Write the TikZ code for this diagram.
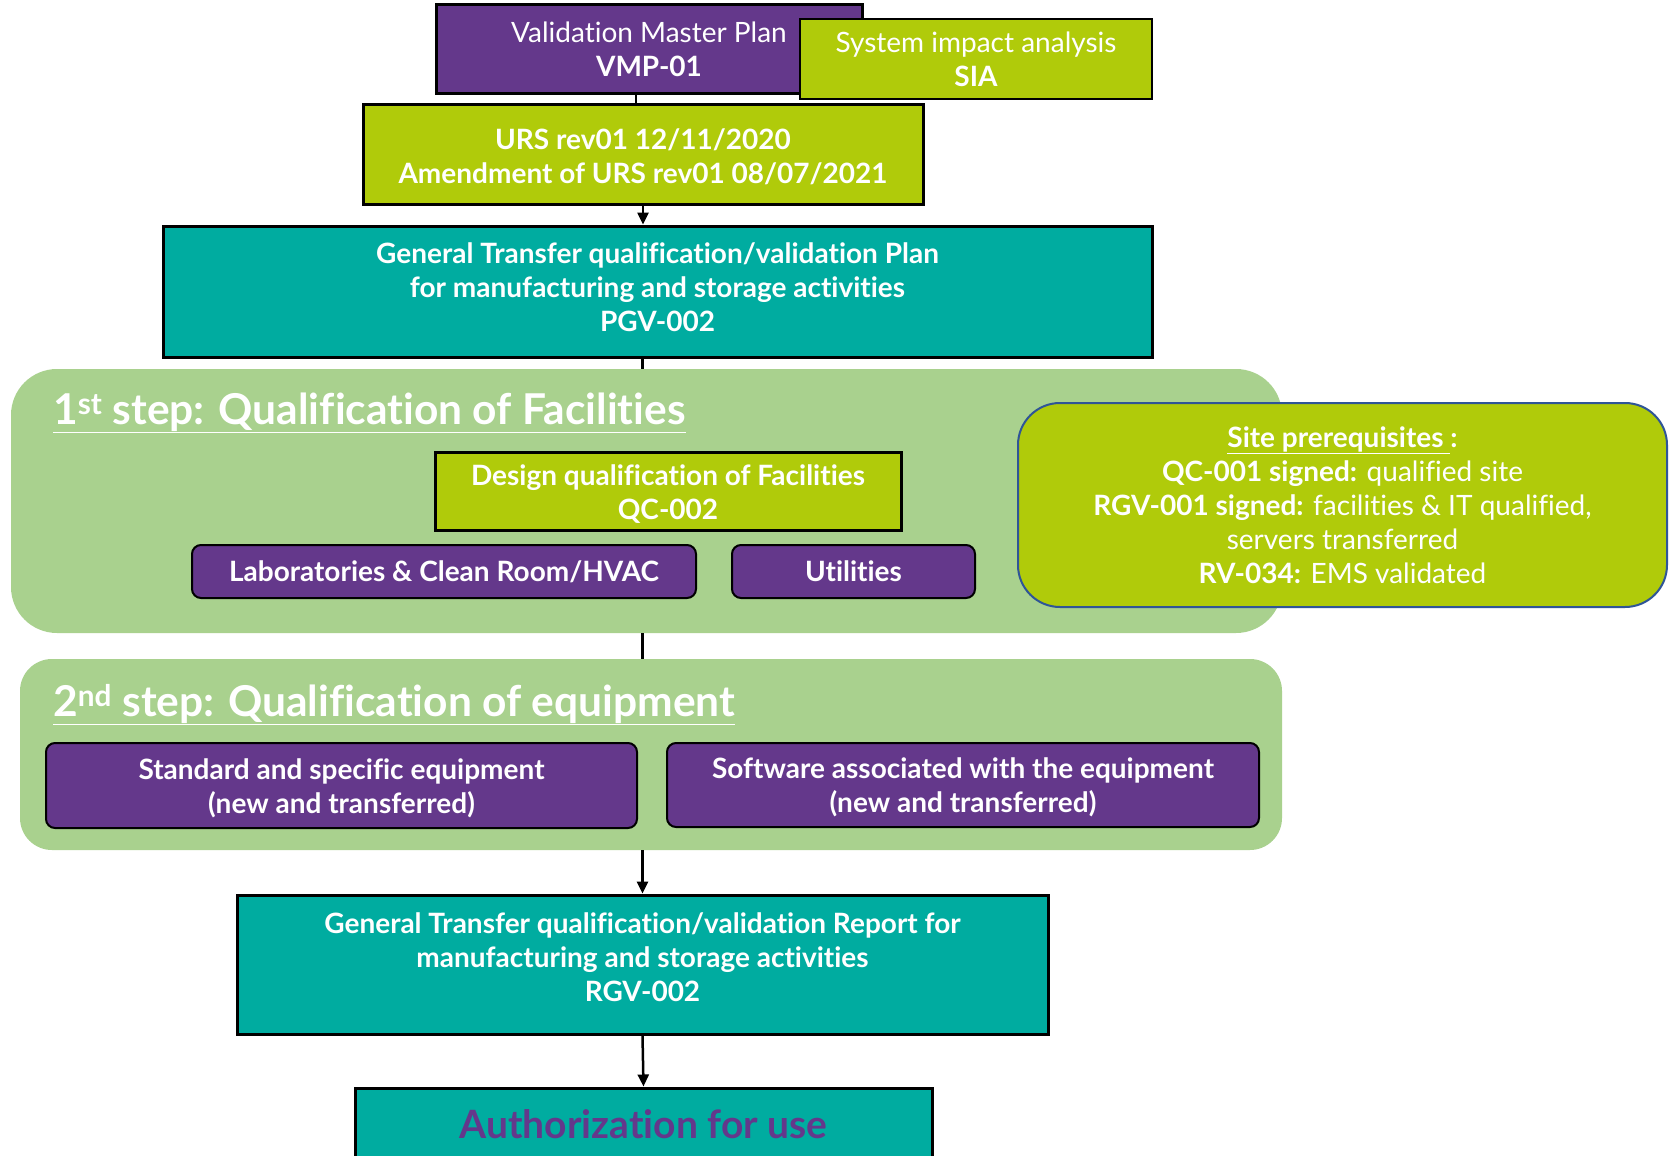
\documentclass[tikz,border=0pt]{standalone}
\usepackage{fontspec}
\setmainfont{Lato}[Ligatures=NoCommon]
\usetikzlibrary{arrows.meta}
\definecolor{vpurple}{RGB}{100,56,139}
\definecolor{vlime}{RGB}{176,203,10}
\definecolor{vteal}{RGB}{0,172,160}
\definecolor{vgreen}{RGB}{169,209,142}
\definecolor{vblue}{RGB}{47,85,151}
\newcommand{\fsz}[2]{\fontsize{#1}{#2}\selectfont}
% extra empty line at the end (lifts the text) or at the start (lowers it)
\newcommand{\upx}[1]{\\[#1]\mbox{}}
\newcommand{\dnx}[1]{\mbox{}\\[#1]}
\tikzset{
  box/.style={draw=black, line width=3pt, align=center, text=white, font=\fsz{28}{34}, inner sep=0pt},
  pillbox/.style={box, line width=2pt, rounded corners=9pt, fill=vpurple, font=\fsz{28}{34}\bfseries},
  container/.style={fill=vgreen, inner sep=0pt},
  steptitle/.style={anchor=base west, text=white, font=\fsz{42.5}{48}\bfseries, inner sep=0pt},
  conn/.style={line width=2.5pt, draw=black},
  arr/.style={conn, -{Triangle[length=12pt,width=11pt]}}
}
\begin{document}
\begin{tikzpicture}[x=1pt,y=-1pt]
\clip (0,0) rectangle (1671,1156);
\fill[white] (0,0) rectangle (1671,1156);

% top boxes
\node[box, fill=vpurple, minimum width=426pt, minimum height=88pt] (vmp) at (649,49) {Validation Master Plan\\\textbf{VMP-01}};
\node[box, line width=2pt, fill=vlime, minimum width=352pt, minimum height=79pt] (sia) at (976,59) {System impact analysis\\\textbf{SIA}};
\node[box, fill=vlime, minimum width=560pt, minimum height=100pt, font=\fsz{28}{34}\bfseries] (urs) at (643,154) {\dnx{-8pt}URS rev01 12/11/2020\\Amendment of URS rev01 08/07/2021};
\node[box, fill=vteal, minimum width=989pt, minimum height=131pt, font=\fsz{28}{34}\bfseries] (pgv) at (657.5,291.5) {General Transfer qualification/validation Plan\\for manufacturing and storage activities\\PGV-002\upx{-26pt}};

% step 1
\node[container, rounded corners=46pt, minimum width=1271pt, minimum height=264pt] (step1) at (646.5,501) {};
\node[steptitle] (t1) at (53,424) {\underline{1\textsuperscript{st} step: Qualification of Facilities}};
\node[box, fill=vlime, minimum width=466pt, minimum height=78pt, font=\fsz{28}{34}\bfseries] (dq) at (668,491) {\dnx{-7pt}Design qualification of Facilities\\QC-002};
\node[pillbox, minimum width=504pt, minimum height=53pt] (labs) at (444,571.5) {Laboratories \& Clean Room/HVAC};
\node[pillbox, minimum width=243pt, minimum height=53pt] (util) at (853.5,571.5) {Utilities};

% site prerequisites
\node[box, draw=vblue, line width=2pt, rounded corners=42pt, fill=vlime, minimum width=649pt, minimum height=204pt, font=\fsz{28}{34}] (site) at (1342.5,505)
  {\textbf{\underline{Site prerequisites }:}\\
   \textbf{QC-001 signed:} qualified site\\
   \textbf{RGV-001 signed:} facilities \& IT qualified,\\
   servers transferred\\
   \textbf{RV-034:} EMS validated};

% step 2
\node[container, rounded corners=32pt, minimum width=1262pt, minimum height=191pt] (step2) at (651,754.5) {};
\node[steptitle] (t2) at (53,716) {\underline{2\textsuperscript{nd} step: Qualification of equipment}};
\node[pillbox, minimum width=591pt, minimum height=85pt] (std) at (341.5,785.5) {\dnx{-8pt}Standard and specific equipment\\(new and transferred)};
\node[pillbox, minimum width=592pt, minimum height=84pt] (soft) at (963,785) {\dnx{-8pt}Software associated with the equipment\\(new and transferred)};

% bottom
\node[box, fill=vteal, minimum width=811pt, minimum height=139pt, font=\fsz{28}{34}\bfseries] (rgv) at (642.5,964.5) {General Transfer qualification/validation Report for\\manufacturing and storage activities\\RGV-002\upx{-19pt}};
\node[box, fill=vteal, minimum width=577pt, minimum height=72pt, text=vpurple, font=\fsz{39}{44}\bfseries] (auth) at (643.5,1124) {Authorization for use};

% connectors
\draw[conn] ([xshift=-7pt]vmp.south -| urs.north) -- ([xshift=-7pt]urs.north);
\draw[arr] (urs.south) -- (urs.south |- pgv.north);
\draw[conn] (pgv.south -| rgv.north) -- (step1.north -| rgv.north);
\draw[conn] (step1.south -| rgv.north) -- (step2.north -| rgv.north);
\draw[arr] (step2.south -| rgv.north) -- (rgv.north);
\draw[arr] (rgv.south) -- (auth.north);
\end{tikzpicture}
\end{document}
